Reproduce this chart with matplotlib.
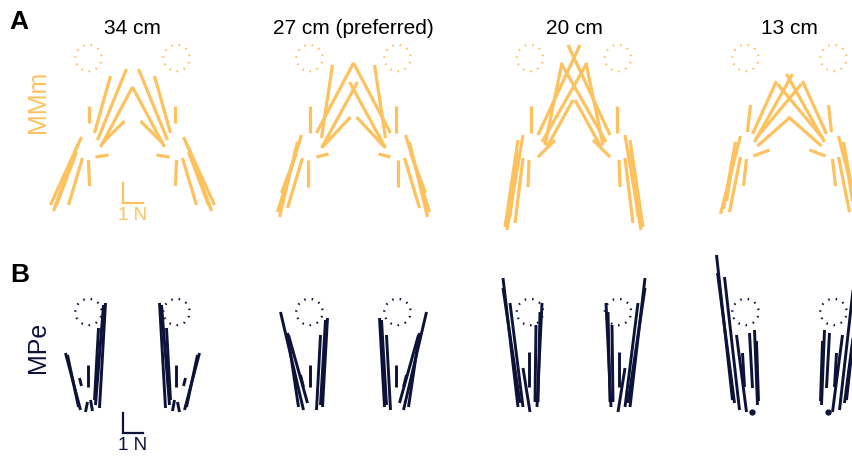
"""Fingertip force vectors for MMm and MPe at four grip distances."""
import matplotlib
matplotlib.use("Agg")
import matplotlib.pyplot as plt
from matplotlib.patches import Circle

plt.rcParams["font.family"] = ["Liberation Sans", "DejaVu Sans"]

ORANGE = "#fdc15e"
NAVY = "#0d1238"

distances = ["34 cm", "27 cm (preferred)", "20 cm", "13 cm"]

# left-finger vectors: tail offset (x0, y0) from the finger, force (fx, fy), all in N
# the right finger is drawn as the mirror image
mmm_34 = [(0.05, 1.2, 0.0, 0.85), (0.0, -0.65, 0.05, -1.3), (0.35, -0.5, 0.65, 0.1),
          (0.3, 0.7, 0.8, 2.85), (0.45, 0.35, 1.45, 3.55), (0.6, 0.0, 1.6, 3.0),
          (0.7, 0.2, 1.1, 1.1), (-0.35, 0.5, -1.55, -3.4), (-0.55, 0.1, -1.2, -3.3),
          (-0.6, -0.25, -1.0, -2.65), (-0.3, -0.55, -0.7, -2.35)]
mmm_27 = [(0.05, 0.7, 0.0, 1.35), (-0.05, -0.65, 0.0, -1.35), (0.35, -0.5, 0.6, 0.15),
          (0.6, 0.45, 0.55, 3.65), (0.35, 0.7, 1.85, 3.5), (0.6, -0.05, 1.8, 3.3),
          (0.65, 0.0, 1.4, 1.5), (-0.4, 0.6, -1.2, -3.85), (-0.6, 0.25, -0.9, -3.75),
          (-0.65, -0.3, -0.75, -2.0), (-0.35, -0.55, -0.75, -2.5)]
mmm_20 = [(0.05, 0.7, 0.0, 1.35), (-0.05, -0.65, -0.05, -1.35), (0.4, -0.5, 0.85, 0.85),
          (0.4, 0.6, 2.1, 4.5), (0.6, 0.25, 2.25, 3.95), (0.75, 0.1, 0.85, 4.1),
          (0.85, 0.0, 1.3, 2.35), (-0.35, 0.6, -0.8, -4.75), (-0.6, 0.35, -0.65, -4.35),
          (-0.65, -0.15, -0.35, -3.35), (-0.35, -0.55, -0.4, -3.25)]
mmm_13 = [(0.1, 0.75, 0.15, 1.35), (0.05, -0.6, -0.15, -1.35), (0.4, -0.45, 0.8, 0.3),
          (0.35, 0.65, 1.2, 2.65), (0.5, 0.4, 2.3, 2.75), (0.6, 0.05, 1.65, 1.45),
          (0.45, 0.25, 1.9, 3.4), (-0.25, 0.55, -1.0, -3.9), (-0.5, 0.25, -0.6, -3.35),
          (-0.25, -0.5, -0.55, -2.75), (-0.55, -0.2, -0.4, -2.5)]

mpe_34 = [(0.55, -0.5, 0.3, 5.25), (0.35, -0.35, 0.4, 5.0), (0.3, -0.1, 0.2, 3.6),
          (-0.4, -0.6, -0.75, 2.85), (-0.5, -0.45, -0.55, 2.6), (-0.35, 0.6, -0.1, 0.4),
          (0.0, 0.55, 0.0, 1.1), (-0.15, -0.7, 0.1, 0.5), (0.2, -0.65, -0.1, 0.55)]
mpe_27 = [(-0.3, -0.6, -1.15, 4.9), (-0.55, -0.45, -0.55, 3.7), (-0.1, -0.25, -0.95, 3.4),
          (-0.3, 0.55, -0.15, 0.6), (0.05, 0.55, 0.0, 1.1), (0.65, -0.45, 0.25, 4.45),
          (0.55, -0.35, 0.25, 4.25), (0.35, -0.6, 0.2, 3.75)]
mpe_20 = [(-0.6, -0.45, -0.75, 6.45), (-0.5, -0.25, -0.85, 5.75), (-0.35, -0.45, -0.65, 5.2),
          (0.0, -0.7, -0.35, 2.2), (-0.05, 0.55, 0.0, 1.75), (0.35, -0.45, 0.25, 5.2),
          (0.4, -0.2, 0.1, 4.5), (0.25, -0.2, 0.05, 3.85)]
mpe_13 = [(-0.65, -0.1, -0.8, 7.25), (-0.55, -0.25, -0.85, 6.5), (-0.3, -0.6, -0.75, 6.65),
          (0.05, -0.7, -0.5, 3.85), (-0.05, 0.55, -0.1, 1.7), (0.35, 0.5, -0.15, 2.75),
          (0.6, -0.35, -0.15, 3.75), (0.65, -0.15, -0.1, 3.0), (0.3, -0.7, 0.0, 0.0)]

rows = [
    ("MMm", ORANGE, [mmm_34, mmm_27, mmm_20, mmm_13]),
    ("MPe", NAVY, [mpe_34, mpe_27, mpe_20, mpe_13]),
]

W, H = 853, 459
PX = 20          # pixels per newton
HALF = 2.2       # half finger spacing, N
panel_x = [132.5, 353.5, 574, 789.5]
row_y = [147, 398]         # finger height per row (px)
row_span = [(40, 245), (250, 459)]
ring_y = [4.45, 4.3]       # dotted markers above the fingers (N)

fig = plt.figure(figsize=(W / 100, H / 100), dpi=100)


def panel_axes(cx, cy, top, bottom, half_w=110):
    ax = fig.add_axes([(cx - half_w) / W, 1 - bottom / H, 2 * half_w / W, (bottom - top) / H])
    ax.set_xlim(-half_w / PX, half_w / PX)
    ax.set_ylim((cy - bottom) / PX, (cy - top) / PX)
    ax.set_axis_off()
    return ax


def draw_finger(ax, vecs, side, color, lw):
    # side -1: left finger as read; side +1: mirrored right finger
    base = side * HALF
    flip = -side
    for x0, y0, fx, fy in vecs:
        xs = base + flip * x0
        if fx == 0 and fy == 0:
            ax.plot(xs, y0, "o", color=color, ms=3.5, clip_on=False)
            continue
        ax.plot([xs, xs + flip * fx], [y0, y0 + fy], color=color, lw=lw,
                solid_capstyle="butt", clip_on=False)


for r, (name, color, panels) in enumerate(rows):
    top, bottom = row_span[r]
    lw = 2.3 if r == 0 else 2.1
    for p, vecs in enumerate(panels):
        ax = panel_axes(panel_x[p], row_y[r], top, bottom)
        for side in (-1, 1):
            draw_finger(ax, vecs, side, color, lw)
            ax.add_patch(Circle((side * HALF, ring_y[r]), 0.66, fill=False, ec=color,
                                lw=1.6, ls=(0, (0.7, 2.7))))
        if p == 0:
            # 1 N scale bar
            sy = -2.8 if r == 0 else -1.75
            ax.plot([-0.47, -0.47, 0.53], [sy + 1, sy, sy], color=color, lw=1.6,
                    solid_joinstyle="miter", clip_on=False)
            ax.text(0.0, sy - 0.6, "1 N", color=color, fontsize=13.5,
                    ha="center", va="center")
    fig.text(38 / W, 1 - (102 if r == 0 else 347) / H, name, color=color, fontsize=18,
             rotation=90, ha="center", va="center")

for p, label in enumerate(distances):
    fig.text(panel_x[p] / W, 1 - 28 / H, label, fontsize=15, ha="center", va="center")

fig.text(19 / W, 1 - 22 / H, "A", fontsize=19, fontweight="bold", ha="center", va="center")
fig.text(20 / W, 1 - 275 / H, "B", fontsize=19, fontweight="bold", ha="center", va="center")

fig.savefig("out.png", dpi=100)
